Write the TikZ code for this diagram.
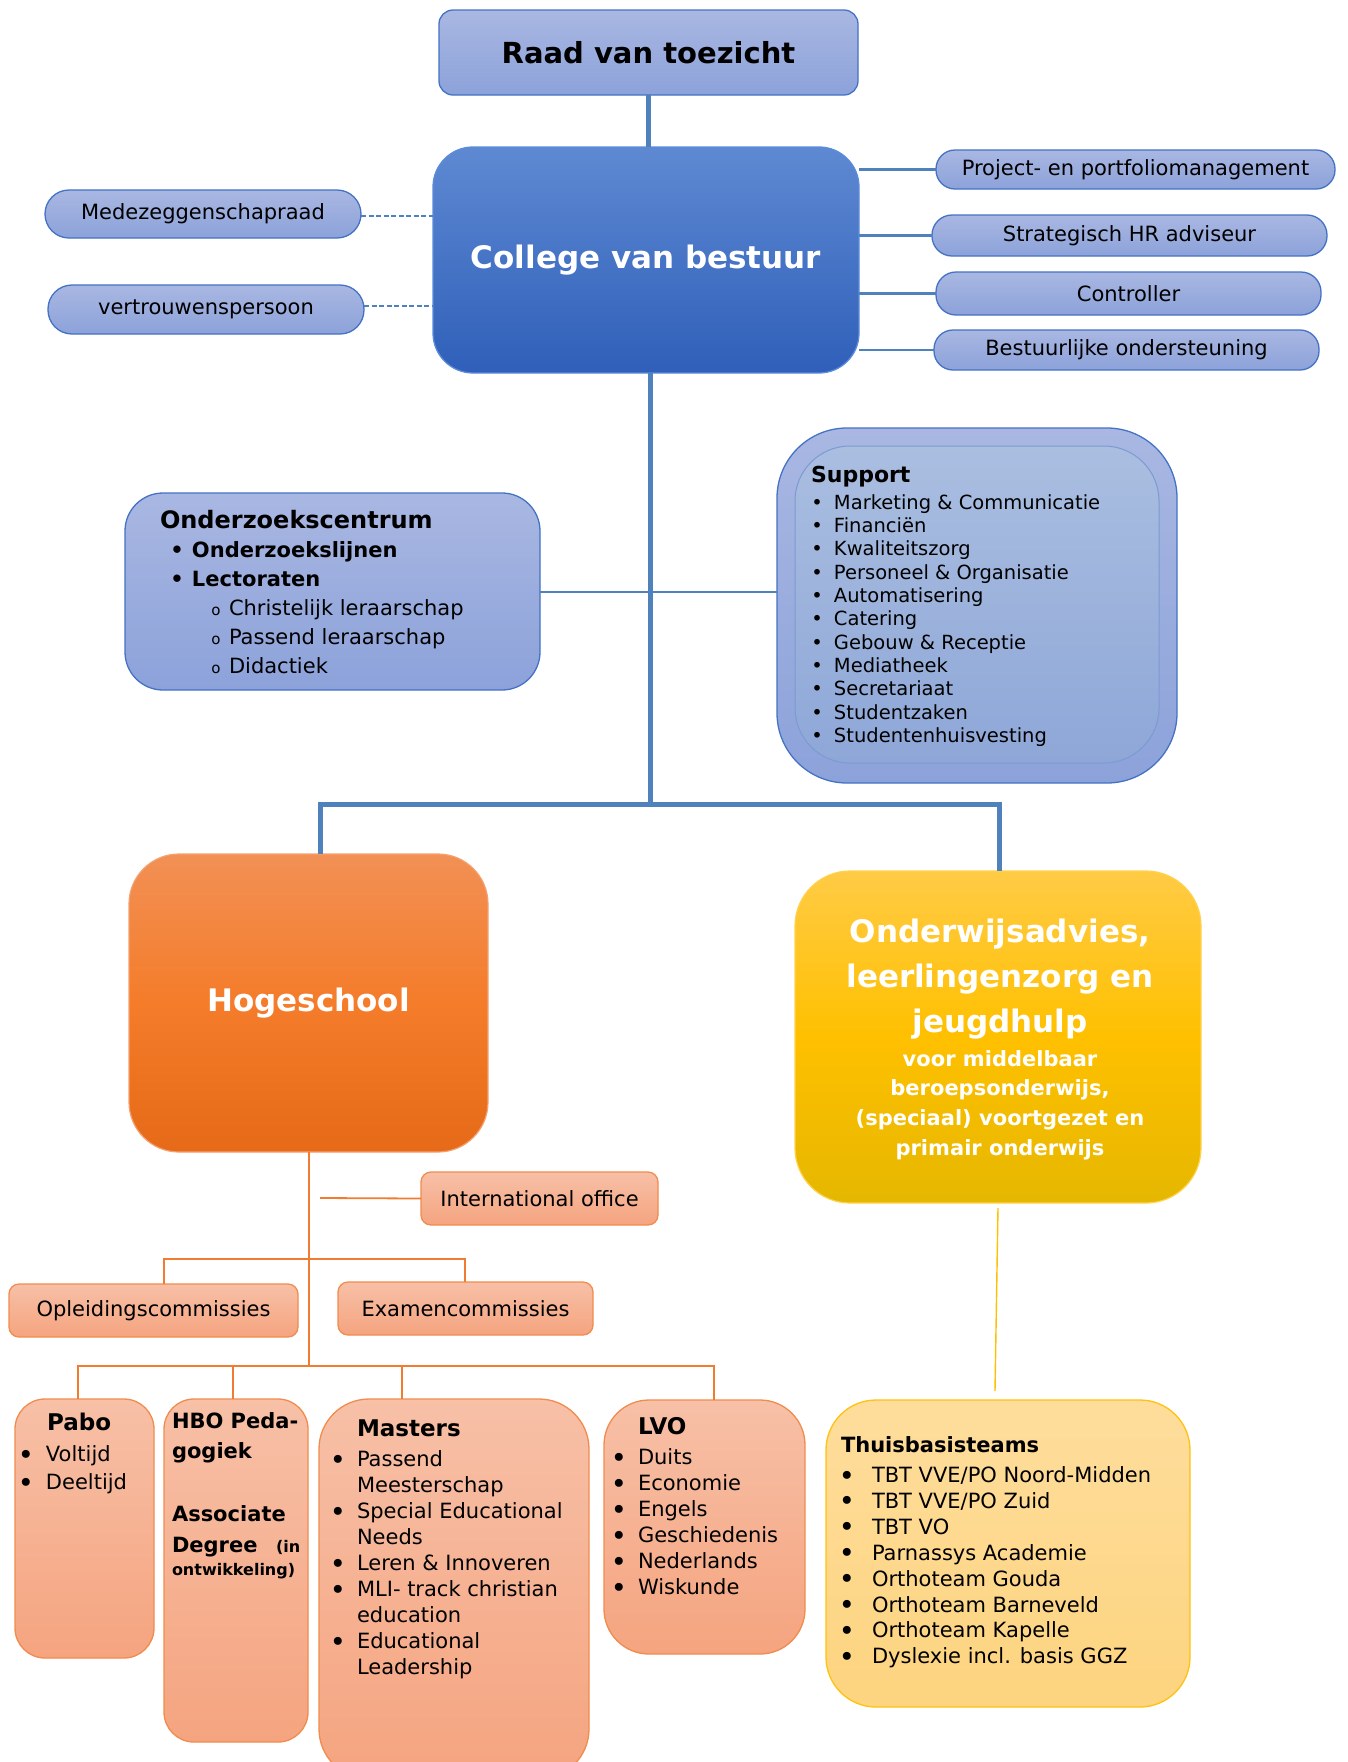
\documentclass[tikz,border=0pt]{standalone}
\usepackage{fontspec}
\setmainfont{DejaVu Sans}
\usetikzlibrary{calc}
\definecolor{perT}{HTML}{A9B7E2}
\definecolor{perB}{HTML}{8CA2DA}
\definecolor{perD}{HTML}{4472C4}
\definecolor{colT}{HTML}{5E89D2}
\definecolor{colB}{HTML}{2F5FB9}
\definecolor{colD}{HTML}{5B8CDB}
\definecolor{supT}{HTML}{AABEE0}
\definecolor{supB}{HTML}{8EA7D8}
\definecolor{supD}{HTML}{7B9BD2}
\definecolor{lnB}{HTML}{4F81BD}
\definecolor{hogT}{HTML}{F29055}
\definecolor{hogM}{HTML}{F47C2A}
\definecolor{hogB}{HTML}{E66A17}
\definecolor{hogD}{HTML}{F4A070}
\definecolor{ondT}{HTML}{FFCB45}
\definecolor{ondM}{HTML}{FFC000}
\definecolor{ondB}{HTML}{E5B700}
\definecolor{ondD}{HTML}{FFD24D}
\definecolor{orT}{HTML}{F7C0A7}
\definecolor{orB}{HTML}{F5A47F}
\definecolor{orD}{HTML}{F08C4E}
\definecolor{orL}{HTML}{F07C32}
\definecolor{thT}{HTML}{FEDD9C}
\definecolor{thB}{HTML}{FDD47F}
\definecolor{thD}{HTML}{FFC20E}
\definecolor{yl}{HTML}{FFC000}
\newcommand\fz[2]{\fontsize{#1}{#2}\selectfont}
\newcommand\itm[2]{\makebox[0pt]{\textbullet}\hspace*{#1}#2}
\newcommand\bigbul{\makebox[0pt]{\raisebox{-0.12em}{\scalebox{1.3}{\textbullet}}}}
\newcommand\itb[2]{\bigbul\hspace*{#1}#2}
\newcommand\cnt[2]{\hspace*{#1}#2}
\begin{document}
\begin{tikzpicture}[x=1pt,y=-1pt,
  every node/.style={inner sep=0pt, outer sep=0pt},
  box/.style={anchor=north west},
  perbox/.style={draw=perD, line width=1.3pt, top color=perT, bottom color=perB},
  colbox/.style={draw=colD, line width=1.3pt, top color=colT, bottom color=colB},
  supbox/.style={draw=supD, line width=1pt, top color=supT, bottom color=supB},
  hogbox/.style={draw=hogD, line width=1.2pt, top color=hogT, bottom color=hogB, middle color=hogM},
  ondbox/.style={draw=ondD, line width=1.2pt, top color=ondT, bottom color=ondB, middle color=ondM},
  orbox/.style={draw=orD, line width=1.3pt, top color=orT, bottom color=orB},
  thbox/.style={draw=thD, line width=1.3pt, top color=thT, bottom color=thB},
  mline/.style={draw=lnB, line width=5pt},
  sline/.style={draw=lnB, line width=2.5pt},
  hline/.style={draw=lnB, line width=2pt},
  dline/.style={draw=lnB, line width=2pt, dash pattern=on 5pt off 2.5pt},
  oline/.style={draw=orL, line width=1.8pt},
  yline/.style={draw=yl, line width=1.4pt},
  txt/.style={font=\fz{21}{26}},
  lst/.style={anchor=base west}
]
\useasboundingbox (0,0) rectangle (1347,1762);

% ---------- top boxes ----------
\node[box, perbox, rounded corners=14pt, minimum width=419pt, minimum height=85pt, font=\fz{29}{35}\bfseries] (raad) at (439,10) {Raad van toezicht};
\node[box, colbox, rounded corners=40pt, minimum width=426pt, minimum height=226pt, font=\fz{31}{37}\bfseries, text=white] (college) at (433,147) {College van bestuur};

\node[box, perbox, rounded corners=24pt, minimum width=316pt, minimum height=48pt, txt] (mede) at (45,190) {Medezeggenschapraad};
\node[box, perbox, rounded corners=24pt, minimum width=316pt, minimum height=49pt, txt] (vertr) at (48,285) {vertrouwenspersoon};

\node[box, perbox, rounded corners=19pt, minimum width=399pt, minimum height=39pt, txt] (proj) at (936,150) {Project- en portfoliomanagement};
\node[box, perbox, rounded corners=20pt, minimum width=395pt, minimum height=41pt, txt] (strat) at (932,215) {Strategisch HR adviseur};
\node[box, perbox, rounded corners=20pt, minimum width=385pt, minimum height=43pt, txt] (contr) at (936,272) {Controller};
\node[box, perbox, rounded corners=19pt, minimum width=385pt, minimum height=40pt, txt] (best) at (934,330) {Bestuurlijke ondersteuning};

% ---------- middle boxes ----------
\node[box, perbox, rounded corners=38pt, minimum width=415pt, minimum height=197pt] (onderz) at (125,493) {};
\node[lst] (onderzt) at (160,528) {\parbox[t]{380pt}{\raggedright\fz{21}{29}%
{\fz{24}{29}\bfseries Onderzoekscentrum}\\
\bfseries\hspace*{17pt}\itm{15pt}{Onderzoekslijnen}\\
\hspace*{17pt}\itm{15pt}{Lectoraten}\\
\mdseries\hspace*{56pt}\makebox[0pt]{\fz{15}{29}o}\hspace*{13pt}Christelijk leraarschap\\
\hspace*{56pt}\makebox[0pt]{\fz{15}{29}o}\hspace*{13pt}Passend leraarschap\\
\hspace*{56pt}\makebox[0pt]{\fz{15}{29}o}\hspace*{13pt}Didactiek}};

\node[box, perbox, rounded corners=70pt, minimum width=400pt, minimum height=355pt] (suppo) at (777,428) {};
\node[box, supbox, rounded corners=55pt, minimum width=364pt, minimum height=317pt] (suppi) at (795,446) {};
\node[lst, font=\fz{22}{26}\bfseries] (supt) at (811,482) {Support};
\node[lst] (supl) at (817,509) {\parbox[t]{330pt}{\raggedright\fz{19.5}{23.37}%
\itm{17pt}{Marketing \& Communicatie}\\
\itm{17pt}{Financiën}\\
\itm{17pt}{Kwaliteitszorg}\\
\itm{17pt}{Personeel \& Organisatie}\\
\itm{17pt}{Automatisering}\\
\itm{17pt}{Catering}\\
\itm{17pt}{Gebouw \& Receptie}\\
\itm{17pt}{Mediatheek}\\
\itm{17pt}{Secretariaat}\\
\itm{17pt}{Studentzaken}\\
\itm{17pt}{Studentenhuisvesting}}};

\node[box, hogbox, rounded corners=50pt, minimum width=359pt, minimum height=298pt, font=\fz{31}{37}\bfseries, text=white] (hoge) at (129,854) {Hogeschool};
\node[box, ondbox, rounded corners=55pt, minimum width=406pt, minimum height=332pt] (onder) at (795,871) {};
\node[anchor=base, text=white] (ondert) at (1000,942) {\parbox[t]{400pt}{\centering\fz{31}{45}\bfseries
Onderwijsadvies,\\ leerlingenzorg en\\ jeugdhulp}};
\node[anchor=base, text=white] (onders) at (1000,1066) {\parbox[t]{400pt}{\centering\fz{21}{29.7}\bfseries
voor middelbaar\\ beroepsonderwijs,\\ (speciaal) voortgezet en\\ primair onderwijs}};

% ---------- Hogeschool sub boxes ----------
\node[box, orbox, rounded corners=10pt, minimum width=237pt, minimum height=53pt, txt] (intl) at (421,1172) {International office};
\node[box, orbox, rounded corners=10pt, minimum width=289pt, minimum height=53pt, txt] (opl) at (9,1284) {Opleidingscommissies};
\node[box, orbox, rounded corners=10pt, minimum width=255pt, minimum height=53pt, txt] (exam) at (338,1282) {Examencommissies};

\node[box, orbox, rounded corners=30pt, minimum width=139pt, minimum height=259pt] (pabo) at (15,1399) {};
\node[box, orbox, rounded corners=30pt, minimum width=144pt, minimum height=343pt] (hbo) at (164,1399) {};
\node[box, orbox, rounded corners=50pt, minimum width=270pt, minimum height=380pt] (mast) at (319,1399) {};
\node[box, orbox, rounded corners=45pt, minimum width=201pt, minimum height=254pt] (lvo) at (604,1400) {};
\node[box, thbox, rounded corners=50pt, minimum width=364pt, minimum height=307pt] (thuis) at (826,1400) {};

% Pabo
\node[lst, font=\fz{23}{28}\bfseries] (pabot) at (47,1430) {Pabo};
\node[lst] (pabol) at (26,1461.5) {\parbox[t]{130pt}{\raggedright\fz{21}{28}%
\itb{20pt}{Voltijd}\\
\itb{20pt}{Deeltijd}}};

% HBO
\node[lst, font=\fz{21}{26}\bfseries] (hbo1) at (172,1428) {HBO Peda-};
\node[lst, font=\fz{21}{26}\bfseries] (hbo2) at (172,1458) {gogiek};
\node[lst, font=\fz{21}{26}\bfseries] (hbo3) at (172,1521) {Associate};
\node[lst, font=\fz{21}{26}\bfseries] (hbo4) at (172,1552) {Degree};
\node[lst, font=\fz{16}{20}\bfseries] (hbo5) at (276,1552) {(in};
\node[lst, font=\fz{16}{20}\bfseries] (hbo6) at (172,1575) {ontwikkeling)};

% Masters
\node[lst, font=\fz{23}{28}\bfseries] (mastt) at (357,1436) {Masters};
\node[lst] (mastl) at (338,1466.5) {\parbox[t]{260pt}{\raggedright\fz{21}{26}%
\itb{19pt}{Passend}\\
\cnt{19pt}{Meesterschap}\\
\itb{19pt}{Special Educational}\\
\cnt{19pt}{Needs}\\
\itb{19pt}{Leren \& Innoveren}\\
\itb{19pt}{MLI- track christian}\\
\cnt{19pt}{education}\\
\itb{19pt}{Educational}\\
\cnt{19pt}{Leadership}}};

% LVO
\node[lst, font=\fz{23}{28}\bfseries] (lvot) at (638,1434) {LVO};
\node[lst] (lvol) at (619,1464.5) {\parbox[t]{190pt}{\raggedright\fz{21}{26}%
\itb{19pt}{Duits}\\
\itb{19pt}{Economie}\\
\itb{19pt}{Engels}\\
\itb{19pt}{Geschiedenis}\\
\itb{19pt}{Nederlands}\\
\itb{19pt}{Wiskunde}}};

% Thuisbasisteams
\node[lst, font=\fz{21}{26}\bfseries] (thuist) at (841,1452.5) {Thuisbasisteams};
\node[lst] (thuisl) at (847,1482.5) {\parbox[t]{340pt}{\raggedright\fz{21}{25.9}%
\itb{25pt}{TBT VVE/PO Noord-Midden}\\
\itb{25pt}{TBT VVE/PO Zuid}\\
\itb{25pt}{TBT VO}\\
\itb{25pt}{Parnassys Academie}\\
\itb{25pt}{Orthoteam Gouda}\\
\itb{25pt}{Orthoteam Barneveld}\\
\itb{25pt}{Orthoteam Kapelle}\\
\itb{25pt}{Dyslexie incl. basis GGZ}}};

% ---------- connectors ----------
\coordinate (jm) at (650,804);
\coordinate (jl) at (320,804);
\coordinate (jr) at (999,804);

\draw[hline] (onderz.east) -- (onderz.east -| suppo.west);
\draw[mline] (raad.south) -- (raad.south |- college.north);
\draw[mline] (jm |- college.south) -- (jm);
\draw[mline] (jl |- hoge.north) -- (jl) -- (jr) -- (jr |- onder.north);

\draw[sline] (proj.west -| college.east) -- (proj.west);
\draw[sline] (strat.west -| college.east) -- (strat.west);
\draw[sline] (contr.west -| college.east) -- (contr.west);
\draw[sline] (best.west -| college.east) -- (best.west);

\coordinate (dm) at (361,215.5);
\coordinate (dv) at (364,306);
\draw[dline] (dm) -- (dm -| college.west);
\draw[dline] (dv) -- (dv -| college.west);

\coordinate (ob) at (309,1366);
\coordinate (ic) at (320,1198);
\coordinate (cl) at (164,1259);
\coordinate (cr) at (465,1259);
\coordinate (b1) at (78,1366);
\coordinate (b2) at (233,1366);
\coordinate (b3) at (402,1366);
\coordinate (b4) at (714,1366);

\draw[oline] (hoge.south -| ob) -- (ob);
\draw[oline] (ic) -- (intl.west);
\draw[oline] (opl.north -| cl) -- (cl) -- (cr) -- (cr |- exam.north);
\draw[oline] (pabo.north -| b1) -- (b1) -- (b4) -- (b4 |- lvo.north);
\draw[oline] (hbo.north -| b2) -- (b2);
\draw[oline] (mast.north -| b3) -- (b3);

\coordinate (ya) at (998,1208);
\coordinate (yb) at (995,1391);
\draw[yline] (ya) -- (yb);
\end{tikzpicture}
\end{document}
